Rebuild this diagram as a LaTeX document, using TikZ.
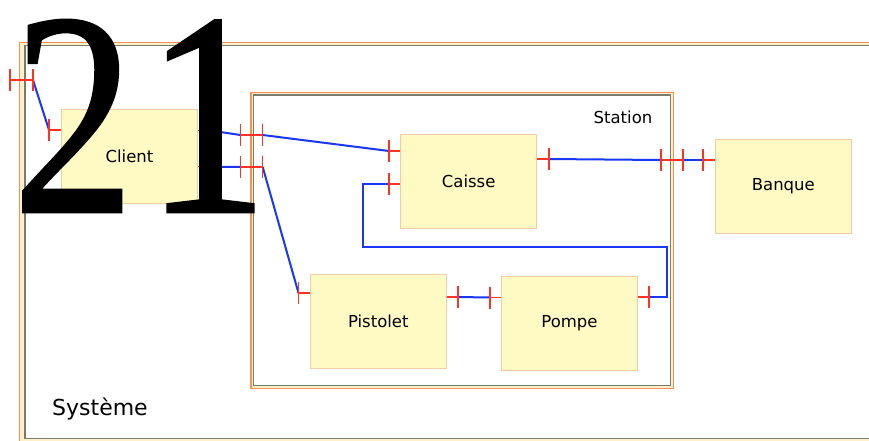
\documentclass[tikz,border=0pt]{standalone}
\usepackage{fontspec}
\usepackage{graphicx}
\newfontfamily\lblfont{DejaVu Sans}
\newfontfamily\digitfont[FakeBold=1]{Liberation Serif}
\definecolor{boxfill}{RGB}{255,250,195}
\definecolor{boxline}{RGB}{240,205,165}
\definecolor{frameor}{RGB}{245,145,85}
\definecolor{framegr}{RGB}{120,125,115}
\definecolor{frameband}{RGB}{255,240,200}
\definecolor{portred}{RGB}{255,50,35}
\definecolor{linkblue}{RGB}{25,55,245}
\newcommand\vtick[1]{\draw[port] ([yshift=-11pt]#1) -- ([yshift=11pt]#1);}
\begin{document}
\begin{tikzpicture}[x=1pt,y=-1pt,
  box/.style={draw=boxline, line width=0.8pt, fill=boxfill, minimum width=136pt, minimum height=94pt, inner sep=0pt, font=\lblfont\fontsize{16.5}{18}\selectfont},
  port/.style={draw=portred, line width=1.4pt},
  link/.style={draw=linkblue, line width=2pt, line join=miter},
  outerframe/.style={draw=frameor, line width=1.4pt, fill=frameband},
  innerframe/.style={draw=framegr, line width=1.3pt, fill=white}]
\useasboundingbox (0,0) rectangle (869,440);
\clip (0,0) rectangle (869,440);
% Systeme frame
\draw[outerframe] (19.6,42.4) rectangle (900,442);
\draw[innerframe] (25,45.6) rectangle (895,438.6);
\node[anchor=base west, inner sep=0pt, font=\lblfont\fontsize{22}{24}\selectfont] (sys) at (52,415) {Système};
% Station frame
\draw[outerframe] (251,92.3) rectangle (673.3,388.5);
\draw[innerframe] (253.8,95) rectangle (670.5,385.7);
\node[anchor=base east, inner sep=0pt, font=\lblfont\fontsize{16.5}{18}\selectfont] (sta) at (652.5,123) {Station};
% boxes
\node[box] (client) at (129.5,156.3) {Client};
\node[box] (caisse) at (468.7,181.2) {Caisse};
\node[box] (banque) at (783.3,186) {Banque};
\node[box] (pistolet) at (378.3,321) {Pistolet};
\node[box] (pompe) at (569.5,323.3) {Pompe};
% port coordinates
\coordinate (sA) at (10,80);
\coordinate (sB) at (33,80);
\coordinate (cL) at (49,130);
\coordinate (cR1) at (210,130.5);
\coordinate (cR2) at (210,166.7);
\coordinate (tA1) at (240.5,135);
\coordinate (tB1) at (262.7,135);
\coordinate (tA2) at (240.5,167);
\coordinate (tB2) at (262.7,167);
\coordinate (kL1) at (389,151);
\coordinate (kL2) at (389,184);
\coordinate (kR) at (549,159);
\coordinate (tC) at (661,160);
\coordinate (tD) at (683,160);
\coordinate (bL) at (703,160);
\coordinate (pL) at (298.5,293);
\coordinate (pR) at (458,297);
\coordinate (mL) at (490,297.5);
\coordinate (mR) at (649,297);
\coordinate (w1) at (363,184);
\coordinate (w2) at (363,247);
\coordinate (w3) at (667,247);
\coordinate (w4) at (667,297);
% blue links
\draw[link] (sB) -- (cL);
\draw[link] (cR1) -- (tA1);
\draw[link] (cR2) -- (tA2);
\draw[link] (tB1) -- (kL1);
\draw[link] (tB2) -- (pL);
\draw[link] (kR) -- (tC);
\draw[link] (tD) -- (bL);
\draw[link] (pR) -- (mL);
\draw[link] (kL2) -- (w1) -- (w2) -- (w3) -- (w4) -- (mR);
% red ports
\draw[port] (sA) -- (sB); \vtick{sA} \vtick{sB}
\draw[port] (client.west |- cL) -- (cL); \vtick{cL}
\draw[port] (client.east |- cR1) -- (cR1); \vtick{cR1}
\draw[port] (client.east |- cR2) -- (cR2); \vtick{cR2}
\draw[port] (tA1) -- (tB1); \vtick{tA1} \vtick{tB1}
\draw[port] (tA2) -- (tB2); \vtick{tA2} \vtick{tB2}
\draw[port] (caisse.west |- kL1) -- (kL1); \vtick{kL1}
\draw[port] (caisse.west |- kL2) -- (kL2); \vtick{kL2}
\draw[port] (caisse.east |- kR) -- (kR); \vtick{kR}
\draw[port] (tC) -- (tD); \vtick{tC} \vtick{tD}
\draw[port] (banque.west |- bL) -- (bL); \vtick{bL}
\draw[port] (pistolet.west |- pL) -- (pL); \vtick{pL}
\draw[port] (pistolet.east |- pR) -- (pR); \vtick{pR}
\draw[port] (pompe.west |- mL) -- (mL); \vtick{mL}
\draw[port] (pompe.east |- mR) -- (mR); \vtick{mR}
% big number
\node[anchor=base west, inner sep=0pt, font=\digitfont\fontsize{290}{290}\selectfont] (num) at (12.5,212) {\scalebox{0.84}[1]{2\kern14pt 1}};
\end{tikzpicture}
\end{document}
